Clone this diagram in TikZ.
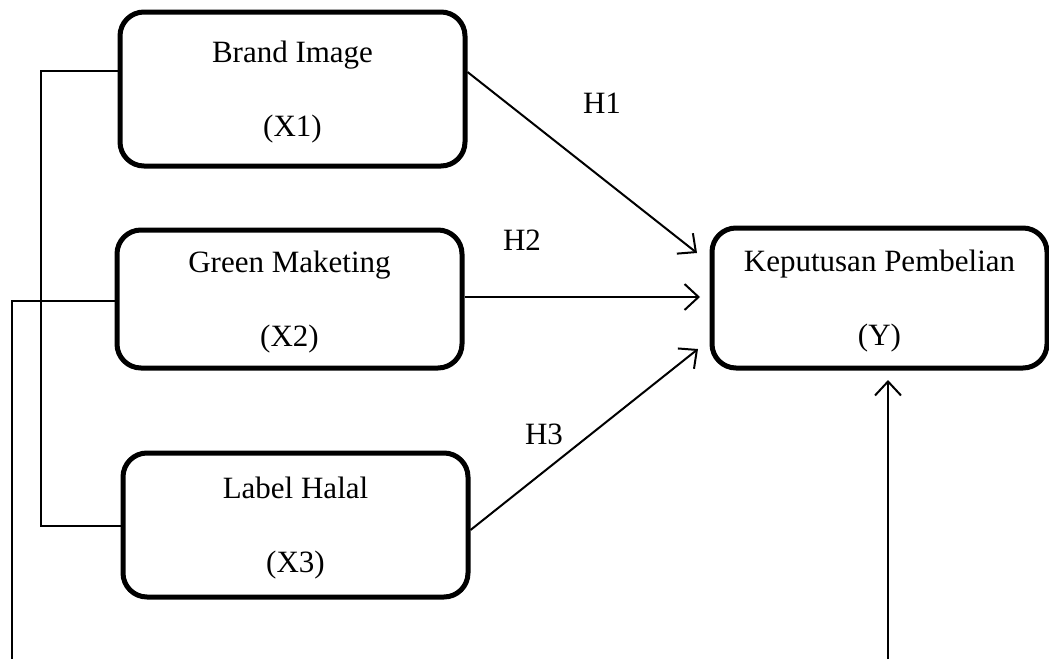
\documentclass[tikz,border=0pt]{standalone}
\usepackage{fontspec}
\setmainfont{Liberation Serif}
\usetikzlibrary{arrows.meta}
\begin{document}
\begin{tikzpicture}[x=1pt,y=-1pt,
  box/.style={draw,line width=5pt,rounded corners=24pt,align=center,
    font=\fontsize{31}{74}\selectfont,inner sep=0pt,text depth=-3pt},
  thin/.style={line width=2pt},
  arr/.style={line width=2pt,-{Straight Barb[length=14pt,width=26pt,line width=2pt]}},
  lbl/.style={font=\fontsize{31}{36}\selectfont,inner sep=0pt}]
\useasboundingbox (0,0) rectangle (1049,659);
\node[box,minimum width=345pt,minimum height=154pt] (B1) at (292.5,89) {Brand Image\\(X1)};
\node[box,minimum width=345pt,minimum height=138pt] (B2) at (289.5,299) {Green Maketing\\(X2)};
\node[box,minimum width=345pt,minimum height=144pt] (B3) at (295.5,525) {Label Halal\\(X3)};
\node[box,minimum width=335pt,minimum height=140pt] (Y) at (879.5,298) {Keputusan Pembelian\\(Y)};
\coordinate (e1) at (697,253);
\coordinate (e2) at (700,297);
\coordinate (e3) at (698,349);
\coordinate (e4) at (888,380);
\coordinate (s4) at (888,659);
\coordinate (c1) at (41,71);
\coordinate (c2) at (41,526);
\coordinate (c3) at (12,301);
\coordinate (c4) at (12,659);
\draw[arr] ([yshift=17pt]B1.east) -- (e1);
\draw[arr] ([yshift=2pt]B2.east) -- (e2);
\draw[arr] ([yshift=-5pt]B3.east) -- (e3);
\draw[arr] (s4) -- (e4);
\draw[thin] ([yshift=18pt]B1.west) -- (c1) -- (c2) -- ([yshift=-1pt]B3.west);
\draw[thin] ([yshift=-2pt]B2.west) -- (c3) -- (c4);
\node[lbl] (H1) at (602,103) {H1};
\node[lbl] (H2) at (522,240) {H2};
\node[lbl] (H3) at (544,434) {H3};
\end{tikzpicture}
\end{document}
